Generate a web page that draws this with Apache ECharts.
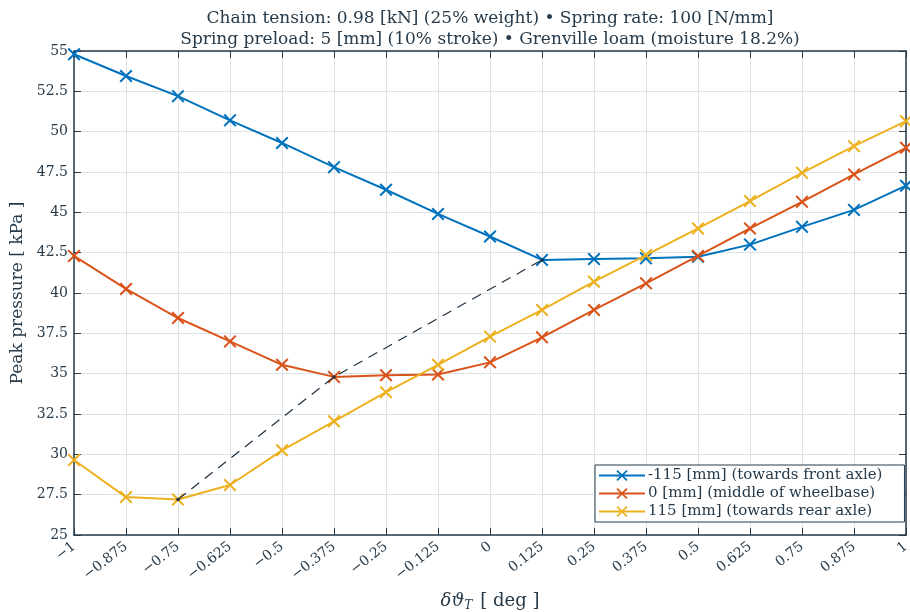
<!DOCTYPE html>
<html>
<head>
<meta charset="utf-8">
<script src="https://cdn.jsdelivr.net/npm/echarts@6/dist/echarts.min.js"></script>
<style>
  html, body { margin: 0; padding: 0; background: #fff; }
  #chart { width: 910px; height: 612px; }
</style>
</head>
<body>
<div id="chart"></div>
<script>
// Tilt offset δϑ_T [deg]
const angles = [-1, -0.875, -0.75, -0.625, -0.5, -0.375, -0.25, -0.125, 0,
  0.125, 0.25, 0.375, 0.5, 0.625, 0.75, 0.875, 1];

// Peak pressure [kPa] for each chain attachment position
const frontAxle = [54.8, 53.45, 52.2, 50.7, 49.3, 47.8, 46.4, 44.9, 43.5,
  42.05, 42.1, 42.15, 42.25, 43.0, 44.1, 45.15, 46.65];
const midBase = [42.3, 40.25, 38.45, 37.0, 35.55, 34.8, 34.9, 34.95, 35.7,
  37.25, 38.95, 40.6, 42.3, 44.0, 45.65, 47.35, 49.0];
const rearAxle = [29.65, 27.35, 27.2, 28.1, 30.25, 32.05, 33.85, 35.55, 37.3,
  38.95, 40.7, 42.35, 44.0, 45.7, 47.45, 49.1, 50.65];

const seriesNames = [
  '-115 [mm] (towards front axle)',
  '0 [mm] (middle of wheelbase)',
  '115 [mm] (towards rear axle)'
];
const titleLines = [
  'Chain tension: 0.98 [kN] (25% weight) \u2022 Spring rate: 100 [N/mm]',
  'Spring preload: 5 [mm] (10% stroke) \u2022 Grenville loam (moisture 18.2%)'
];

const colors = ['#0072BD', '#D95319', '#EDB120'];
const ink = '#263a4a';
const serif = '"DejaVu Serif", "Liberation Serif", serif';

// Plot frame in pixels
const plotLeft = 74, plotRight = 4, plotTop = 51, plotBottom = 77;
const plotCenterX = plotLeft + (910 - plotLeft - plotRight) / 2;

// Cross marker drawn as a filled outline
const t = 1.1;
const crossPath = 'path://M0,' + t + 'L' + t + ',0L5,' + (5 - t) + 'L' + (10 - t) + ',0L10,' + t +
  'L' + (5 + t) + ',5L10,' + (10 - t) + 'L' + (10 - t) + ',10L5,' + (5 + t) + 'L' + t + ',10L0,' +
  (10 - t) + 'L' + (5 - t) + ',5Z';

function pairs(ys) { return angles.map((a, i) => [a, ys[i]]); }
function minPoint(ys) {
  let k = 0;
  ys.forEach((v, i) => { if (v < ys[k]) k = i; });
  return [angles[k], ys[k]];
}

// Dashed path through each curve's minimum (rear → middle → front)
const minima = [minPoint(rearAxle), minPoint(midBase), minPoint(frontAxle)];

const fmtNum = v => String(v).replace('-', '\u2212');

const chart = echarts.init(document.getElementById('chart'), null, { renderer: 'canvas' });

const lineSeries = [frontAxle, midBase, rearAxle].map((ys, i) => ({
  name: seriesNames[i],
  type: 'line',
  data: pairs(ys),
  symbol: crossPath,
  symbolSize: 13,
  showAllSymbol: true,
  lineStyle: { color: colors[i], width: 2 },
  itemStyle: { color: colors[i] },
  z: 3 + i,
  animation: false
}));

const frameLine = { show: true, onZero: false, lineStyle: { color: ink, width: 1.5 } };
const frameTick = { show: true, inside: true, length: 7, lineStyle: { color: ink } };
const gridLine = { show: true, lineStyle: { color: '#dde2e5', width: 1 } };

chart.setOption({
  animation: false,
  backgroundColor: '#ffffff',
  title: {
    text: titleLines.join('\n'),
    left: plotCenterX,
    textAlign: 'center',
    top: 8,
    padding: 0,
    textStyle: { fontFamily: serif, fontSize: 17, fontWeight: 'normal', color: ink, lineHeight: 21 }
  },
  legend: {
    data: seriesNames,
    orient: 'vertical',
    left: 595,
    top: 465,
    padding: [3, 22, 3, 3],
    itemGap: 3,
    itemWidth: 46,
    itemHeight: 14,
    backgroundColor: '#ffffff',
    borderColor: ink,
    borderWidth: 1,
    borderRadius: 0,
    textStyle: { fontFamily: serif, fontSize: 15, color: ink, padding: [0, 0, 0, -2] }
  },
  grid: { left: plotLeft, right: plotRight, top: plotTop, bottom: plotBottom, containLabel: false, outerBoundsMode: 'none' },
  xAxis: [{
    type: 'value',
    min: -1, max: 1, interval: 0.125,
    position: 'bottom',
    name: '{i|\u03b4\u03d1}{s|T}{n|[ deg ]}',
    nameLocation: 'middle',
    nameGap: 55,
    nameTextStyle: {
      rich: {
        i: { fontFamily: serif, fontStyle: 'italic', fontSize: 18, color: ink },
        s: { fontFamily: serif, fontStyle: 'italic', fontSize: 12, color: ink, verticalAlign: 'bottom', padding: [10, 0, 0, 0] },
        n: { fontFamily: serif, fontSize: 18, color: ink, padding: [0, 0, 0, 8] }
      }
    },
    axisLine: frameLine,
    axisTick: frameTick,
    axisLabel: {
      rotate: 38, margin: 10, fontFamily: serif, fontSize: 14, color: ink,
      formatter: fmtNum, showMaxLabel: true, showMinLabel: true
    },
    splitLine: gridLine
  }, {
    type: 'value',
    min: -1, max: 1, interval: 0.125,
    position: 'top',
    axisLine: frameLine,
    axisTick: frameTick,
    axisLabel: { show: false },
    splitLine: { show: false }
  }],
  yAxis: [{
    type: 'value',
    min: 25, max: 55, interval: 2.5,
    position: 'left',
    name: 'Peak pressure [ kPa ]',
    nameLocation: 'middle',
    nameGap: 42,
    nameTextStyle: { fontFamily: serif, fontSize: 17, color: ink },
    axisLine: frameLine,
    axisTick: frameTick,
    axisLabel: { margin: 6, fontFamily: serif, fontSize: 14, color: ink, formatter: v => String(v) },
    splitLine: gridLine
  }, {
    type: 'value',
    min: 25, max: 55, interval: 2.5,
    position: 'right',
    axisLine: frameLine,
    axisTick: frameTick,
    axisLabel: { show: false },
    splitLine: { show: false }
  }],
  series: [
    {
      name: 'minima',
      type: 'line',
      data: minima,
      symbol: 'circle',
      symbolSize: 3.5,
      lineStyle: { color: '#1f3040', width: 1.2, type: [10, 7] },
      itemStyle: { color: '#1f3040' },
      z: 10,
      silent: true
    }
  ].concat(lineSeries)
});
</script>
</body>
</html>
